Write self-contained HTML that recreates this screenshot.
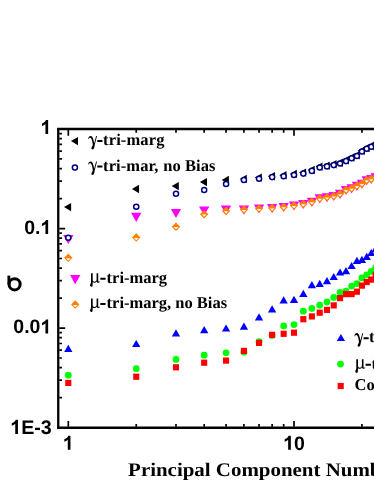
<!DOCTYPE html>
<html><head><meta charset="utf-8"><title>chart</title>
<style>
html,body{margin:0;padding:0;background:#fff;width:374px;height:484px;overflow:hidden}
svg{display:block;will-change:transform;transform:translateZ(0)}
text{text-rendering:geometricPrecision}
.s{font-family:"Liberation Sans",sans-serif;font-weight:bold;fill:#000}
.t{font-family:"Liberation Serif",serif;font-weight:bold;fill:#000}
</style></head><body>
<svg width="374" height="484" viewBox="0 0 374 484">
<rect width="374" height="484" fill="#fff"/>
<g>
<path d="M64 207.1L71.1 202.9V211.3Z" fill="#000"/>
<path d="M131.94 189L139.04 184.8V193.2Z" fill="#000"/>
<path d="M171.69 186.1L178.79 181.9V190.3Z" fill="#000"/>
<path d="M199.88 182.1L206.98 177.9V186.3Z" fill="#000"/>
<path d="M221.76 180L228.86 175.8V184.2Z" fill="#000"/>
<path d="M239.63 179L246.73 174.8V183.2Z" fill="#000"/>
<path d="M254.74 177.6L261.84 173.4V181.8Z" fill="#000"/>
<path d="M267.83 176.2L274.93 172V180.4Z" fill="#000"/>
<path d="M279.37 175.2L286.47 171V179.4Z" fill="#000"/>
<path d="M289.7 173.9L296.8 169.7V178.1Z" fill="#000"/>
<path d="M299.04 172.6L306.14 168.4V176.8Z" fill="#000"/>
<path d="M307.57 170L314.67 165.8V174.2Z" fill="#000"/>
<path d="M315.42 166.6L322.52 162.4V170.8Z" fill="#000"/>
<path d="M322.68 165.6L329.78 161.4V169.8Z" fill="#000"/>
<path d="M329.44 164.3L336.54 160.1V168.5Z" fill="#000"/>
<path d="M335.77 162.7L342.87 158.5V166.9Z" fill="#000"/>
<path d="M341.71 160.3L348.81 156.1V164.5Z" fill="#000"/>
<path d="M347.32 157.5L354.42 153.3V161.7Z" fill="#000"/>
<path d="M352.61 155.2L359.71 151V159.4Z" fill="#000"/>
<path d="M357.64 150.8L364.74 146.6V155Z" fill="#000"/>
<path d="M362.42 148L369.52 143.8V152.2Z" fill="#000"/>
<path d="M366.98 146L374.08 141.8V150.2Z" fill="#000"/>
<path d="M371.34 143.8L378.44 139.6V148Z" fill="#000"/>
<path d="M375.51 142L382.61 137.8V146.2Z" fill="#000"/>
</g>
<g>
<path d="M63.15 234.9H73.45L68.3 244Z" fill="#f0f"/>
<path d="M131.09 212.8H141.39L136.24 221.9Z" fill="#f0f"/>
<path d="M170.84 208.9H181.14L175.99 218Z" fill="#f0f"/>
<path d="M199.03 206.5H209.33L204.18 215.6Z" fill="#f0f"/>
<path d="M220.91 205.5H231.21L226.06 214.6Z" fill="#f0f"/>
<path d="M238.78 205.6H249.08L243.93 214.7Z" fill="#f0f"/>
<path d="M253.89 204.5H264.19L259.04 213.6Z" fill="#f0f"/>
<path d="M266.98 204.1H277.28L272.13 213.2Z" fill="#f0f"/>
<path d="M278.52 202.9H288.82L283.67 212Z" fill="#f0f"/>
<path d="M288.85 201.5H299.15L294 210.6Z" fill="#f0f"/>
<path d="M298.19 199.9H308.49L303.34 209Z" fill="#f0f"/>
<path d="M306.72 197.8H317.02L311.87 206.9Z" fill="#f0f"/>
<path d="M314.57 194.3H324.87L319.72 203.4Z" fill="#f0f"/>
<path d="M321.83 193.2H332.13L326.98 202.3Z" fill="#f0f"/>
<path d="M328.59 192H338.89L333.74 201.1Z" fill="#f0f"/>
<path d="M334.92 189.8H345.22L340.07 198.9Z" fill="#f0f"/>
<path d="M340.86 185.9H351.16L346.01 195Z" fill="#f0f"/>
<path d="M346.47 184.3H356.77L351.62 193.4Z" fill="#f0f"/>
<path d="M351.76 181.8H362.06L356.91 190.9Z" fill="#f0f"/>
<path d="M356.79 179.7H367.09L361.94 188.8Z" fill="#f0f"/>
<path d="M361.57 176.2H371.87L366.72 185.3Z" fill="#f0f"/>
<path d="M366.13 174.9H376.43L371.28 184Z" fill="#f0f"/>
<path d="M370.49 173.3H380.79L375.64 182.4Z" fill="#f0f"/>
<path d="M374.66 172.1H384.96L379.81 181.2Z" fill="#f0f"/>
</g>
<g>
<circle cx="68.3" cy="237.8" r="2.55" fill="#fff" stroke="#000080" stroke-width="1.5"/>
<circle cx="136.24" cy="206.7" r="2.55" fill="#fff" stroke="#000080" stroke-width="1.5"/>
<circle cx="175.99" cy="193.7" r="2.55" fill="#fff" stroke="#000080" stroke-width="1.5"/>
<circle cx="204.18" cy="190" r="2.55" fill="#fff" stroke="#000080" stroke-width="1.5"/>
<circle cx="226.06" cy="184" r="2.55" fill="#fff" stroke="#000080" stroke-width="1.5"/>
<circle cx="243.93" cy="180" r="2.55" fill="#fff" stroke="#000080" stroke-width="1.5"/>
<circle cx="259.04" cy="178.8" r="2.55" fill="#fff" stroke="#000080" stroke-width="1.5"/>
<circle cx="272.13" cy="177.1" r="2.55" fill="#fff" stroke="#000080" stroke-width="1.5"/>
<circle cx="283.67" cy="176.3" r="2.55" fill="#fff" stroke="#000080" stroke-width="1.5"/>
<circle cx="294" cy="175" r="2.55" fill="#fff" stroke="#000080" stroke-width="1.5"/>
<circle cx="303.34" cy="173.6" r="2.55" fill="#fff" stroke="#000080" stroke-width="1.5"/>
<circle cx="311.87" cy="170.9" r="2.55" fill="#fff" stroke="#000080" stroke-width="1.5"/>
<circle cx="319.72" cy="167.5" r="2.55" fill="#fff" stroke="#000080" stroke-width="1.5"/>
<circle cx="326.98" cy="166.4" r="2.55" fill="#fff" stroke="#000080" stroke-width="1.5"/>
<circle cx="333.74" cy="165.1" r="2.55" fill="#fff" stroke="#000080" stroke-width="1.5"/>
<circle cx="340.07" cy="163.5" r="2.55" fill="#fff" stroke="#000080" stroke-width="1.5"/>
<circle cx="346.01" cy="161.1" r="2.55" fill="#fff" stroke="#000080" stroke-width="1.5"/>
<circle cx="351.62" cy="158.3" r="2.55" fill="#fff" stroke="#000080" stroke-width="1.5"/>
<circle cx="356.91" cy="156" r="2.55" fill="#fff" stroke="#000080" stroke-width="1.5"/>
<circle cx="361.94" cy="151.5" r="2.55" fill="#fff" stroke="#000080" stroke-width="1.5"/>
<circle cx="366.72" cy="148.8" r="2.55" fill="#fff" stroke="#000080" stroke-width="1.5"/>
<circle cx="371.28" cy="146.8" r="2.55" fill="#fff" stroke="#000080" stroke-width="1.5"/>
<circle cx="375.64" cy="144.6" r="2.55" fill="#fff" stroke="#000080" stroke-width="1.5"/>
<circle cx="379.81" cy="143" r="2.55" fill="#fff" stroke="#000080" stroke-width="1.5"/>
</g>
<g>
<path d="M64.1 257.8L68.3 253.55L72.5 257.8L68.3 262.05Z" fill="#ff8000"/><path d="M66.05 258.2H70.55L68.3 260.45Z" fill="#fff"/>
<path d="M132.04 237.5L136.24 233.25L140.44 237.5L136.24 241.75Z" fill="#ff8000"/><path d="M133.99 237.9H138.49L136.24 240.15Z" fill="#fff"/>
<path d="M171.79 226.7L175.99 222.45L180.19 226.7L175.99 230.95Z" fill="#ff8000"/><path d="M173.74 227.1H178.24L175.99 229.35Z" fill="#fff"/>
<path d="M199.98 214.2L204.18 209.95L208.38 214.2L204.18 218.45Z" fill="#ff8000"/><path d="M201.93 214.6H206.43L204.18 216.85Z" fill="#fff"/>
<path d="M221.86 210.9L226.06 206.65L230.26 210.9L226.06 215.15Z" fill="#ff8000"/><path d="M223.81 211.3H228.31L226.06 213.55Z" fill="#fff"/>
<path d="M239.73 209.6L243.93 205.35L248.13 209.6L243.93 213.85Z" fill="#ff8000"/><path d="M241.68 210H246.18L243.93 212.25Z" fill="#fff"/>
<path d="M254.84 208.5L259.04 204.25L263.24 208.5L259.04 212.75Z" fill="#ff8000"/><path d="M256.79 208.9H261.29L259.04 211.15Z" fill="#fff"/>
<path d="M267.93 208.1L272.13 203.85L276.33 208.1L272.13 212.35Z" fill="#ff8000"/><path d="M269.88 208.5H274.38L272.13 210.75Z" fill="#fff"/>
<path d="M279.47 206.9L283.67 202.65L287.87 206.9L283.67 211.15Z" fill="#ff8000"/><path d="M281.42 207.3H285.92L283.67 209.55Z" fill="#fff"/>
<path d="M289.8 205.5L294 201.25L298.2 205.5L294 209.75Z" fill="#ff8000"/><path d="M291.75 205.9H296.25L294 208.15Z" fill="#fff"/>
<path d="M299.14 203.9L303.34 199.65L307.54 203.9L303.34 208.15Z" fill="#ff8000"/><path d="M301.09 204.3H305.59L303.34 206.55Z" fill="#fff"/>
<path d="M307.67 201.8L311.87 197.55L316.07 201.8L311.87 206.05Z" fill="#ff8000"/><path d="M309.62 202.2H314.12L311.87 204.45Z" fill="#fff"/>
<path d="M315.52 198.3L319.72 194.05L323.92 198.3L319.72 202.55Z" fill="#ff8000"/><path d="M317.47 198.7H321.97L319.72 200.95Z" fill="#fff"/>
<path d="M322.78 197.2L326.98 192.95L331.18 197.2L326.98 201.45Z" fill="#ff8000"/><path d="M324.73 197.6H329.23L326.98 199.85Z" fill="#fff"/>
<path d="M329.54 196L333.74 191.75L337.94 196L333.74 200.25Z" fill="#ff8000"/><path d="M331.49 196.4H335.99L333.74 198.65Z" fill="#fff"/>
<path d="M335.87 193.8L340.07 189.55L344.27 193.8L340.07 198.05Z" fill="#ff8000"/><path d="M337.82 194.2H342.32L340.07 196.45Z" fill="#fff"/>
<path d="M341.81 189.9L346.01 185.65L350.21 189.9L346.01 194.15Z" fill="#ff8000"/><path d="M343.76 190.3H348.26L346.01 192.55Z" fill="#fff"/>
<path d="M347.42 188.3L351.62 184.05L355.82 188.3L351.62 192.55Z" fill="#ff8000"/><path d="M349.37 188.7H353.87L351.62 190.95Z" fill="#fff"/>
<path d="M352.71 185.8L356.91 181.55L361.11 185.8L356.91 190.05Z" fill="#ff8000"/><path d="M354.66 186.2H359.16L356.91 188.45Z" fill="#fff"/>
<path d="M357.74 183.7L361.94 179.45L366.14 183.7L361.94 187.95Z" fill="#ff8000"/><path d="M359.69 184.1H364.19L361.94 186.35Z" fill="#fff"/>
<path d="M362.52 180.2L366.72 175.95L370.92 180.2L366.72 184.45Z" fill="#ff8000"/><path d="M364.47 180.6H368.97L366.72 182.85Z" fill="#fff"/>
<path d="M367.08 178.9L371.28 174.65L375.48 178.9L371.28 183.15Z" fill="#ff8000"/><path d="M369.03 179.3H373.53L371.28 181.55Z" fill="#fff"/>
<path d="M371.44 177.3L375.64 173.05L379.84 177.3L375.64 181.55Z" fill="#ff8000"/><path d="M373.39 177.7H377.89L375.64 179.95Z" fill="#fff"/>
<path d="M375.61 176L379.81 171.75L384.01 176L379.81 180.25Z" fill="#ff8000"/><path d="M377.56 176.4H382.06L379.81 178.65Z" fill="#fff"/>
</g>
<g>
<path d="M64.15 351.9H72.45L68.3 344.7Z" fill="#00f"/>
<path d="M132.09 347.1H140.39L136.24 339.9Z" fill="#00f"/>
<path d="M171.84 336.4H180.14L175.99 329.2Z" fill="#00f"/>
<path d="M200.03 333.2H208.33L204.18 326Z" fill="#00f"/>
<path d="M221.91 331.6H230.21L226.06 324.4Z" fill="#00f"/>
<path d="M239.78 329.8H248.08L243.93 322.6Z" fill="#00f"/>
<path d="M254.89 320.4H263.19L259.04 313.2Z" fill="#00f"/>
<path d="M267.98 312.4H276.28L272.13 305.2Z" fill="#00f"/>
<path d="M279.52 303.5H287.82L283.67 296.3Z" fill="#00f"/>
<path d="M289.85 303H298.15L294 295.8Z" fill="#00f"/>
<path d="M299.19 297H307.49L303.34 289.8Z" fill="#00f"/>
<path d="M307.72 288.3H316.02L311.87 281.1Z" fill="#00f"/>
<path d="M315.57 286.9H323.87L319.72 279.7Z" fill="#00f"/>
<path d="M322.83 284.2H331.13L326.98 277Z" fill="#00f"/>
<path d="M329.59 280.1H337.89L333.74 272.9Z" fill="#00f"/>
<path d="M335.92 275.6H344.22L340.07 268.4Z" fill="#00f"/>
<path d="M341.86 274.2H350.16L346.01 267Z" fill="#00f"/>
<path d="M347.47 269.1H355.77L351.62 261.9Z" fill="#00f"/>
<path d="M352.76 263.9H361.06L356.91 256.7Z" fill="#00f"/>
<path d="M357.79 262.9H366.09L361.94 255.7Z" fill="#00f"/>
<path d="M362.57 259.9H370.87L366.72 252.7Z" fill="#00f"/>
<path d="M367.13 256.1H375.43L371.28 248.9Z" fill="#00f"/>
<path d="M371.49 252H379.79L375.64 244.8Z" fill="#00f"/>
<path d="M375.66 249.6H383.96L379.81 242.4Z" fill="#00f"/>
</g>
<g>
<circle cx="68.3" cy="375.2" r="3.4" fill="#0f0"/>
<circle cx="136.24" cy="368.7" r="3.4" fill="#0f0"/>
<circle cx="175.99" cy="359.5" r="3.4" fill="#0f0"/>
<circle cx="204.18" cy="355.2" r="3.4" fill="#0f0"/>
<circle cx="226.06" cy="352.8" r="3.4" fill="#0f0"/>
<circle cx="243.93" cy="352.2" r="3.4" fill="#0f0"/>
<circle cx="259.04" cy="341.6" r="3.4" fill="#0f0"/>
<circle cx="272.13" cy="335.4" r="3.4" fill="#0f0"/>
<circle cx="283.67" cy="326" r="3.4" fill="#0f0"/>
<circle cx="294" cy="324.6" r="3.4" fill="#0f0"/>
<circle cx="303.34" cy="311.2" r="3.4" fill="#0f0"/>
<circle cx="311.87" cy="308.4" r="3.4" fill="#0f0"/>
<circle cx="319.72" cy="305.2" r="3.4" fill="#0f0"/>
<circle cx="326.98" cy="302" r="3.4" fill="#0f0"/>
<circle cx="333.74" cy="297.4" r="3.4" fill="#0f0"/>
<circle cx="340.07" cy="292.3" r="3.4" fill="#0f0"/>
<circle cx="346.01" cy="291.2" r="3.4" fill="#0f0"/>
<circle cx="351.62" cy="286.1" r="3.4" fill="#0f0"/>
<circle cx="356.91" cy="283.6" r="3.4" fill="#0f0"/>
<circle cx="361.94" cy="277.9" r="3.4" fill="#0f0"/>
<circle cx="366.72" cy="274.8" r="3.4" fill="#0f0"/>
<circle cx="371.28" cy="271.5" r="3.4" fill="#0f0"/>
<circle cx="375.64" cy="267.4" r="3.4" fill="#0f0"/>
<circle cx="379.81" cy="265" r="3.4" fill="#0f0"/>
</g>
<g>
<rect x="65.25" y="379.8" width="6.1" height="6.2" fill="#f00"/>
<rect x="133.19" y="373.6" width="6.1" height="6.2" fill="#f00"/>
<rect x="172.94" y="364.2" width="6.1" height="6.2" fill="#f00"/>
<rect x="201.13" y="359.6" width="6.1" height="6.2" fill="#f00"/>
<rect x="223.01" y="357.5" width="6.1" height="6.2" fill="#f00"/>
<rect x="240.88" y="347.8" width="6.1" height="6.2" fill="#f00"/>
<rect x="255.99" y="339.8" width="6.1" height="6.2" fill="#f00"/>
<rect x="269.08" y="331.7" width="6.1" height="6.2" fill="#f00"/>
<rect x="280.62" y="330.7" width="6.1" height="6.2" fill="#f00"/>
<rect x="290.95" y="329.6" width="6.1" height="6.2" fill="#f00"/>
<rect x="300.29" y="316.1" width="6.1" height="6.2" fill="#f00"/>
<rect x="308.82" y="313.3" width="6.1" height="6.2" fill="#f00"/>
<rect x="316.67" y="309.6" width="6.1" height="6.2" fill="#f00"/>
<rect x="323.93" y="306.8" width="6.1" height="6.2" fill="#f00"/>
<rect x="330.69" y="302.3" width="6.1" height="6.2" fill="#f00"/>
<rect x="337.02" y="295" width="6.1" height="6.2" fill="#f00"/>
<rect x="342.96" y="291" width="6.1" height="6.2" fill="#f00"/>
<rect x="348.57" y="291" width="6.1" height="6.2" fill="#f00"/>
<rect x="353.86" y="288.6" width="6.1" height="6.2" fill="#f00"/>
<rect x="358.89" y="282.5" width="6.1" height="6.2" fill="#f00"/>
<rect x="363.67" y="278.9" width="6.1" height="6.2" fill="#f00"/>
<rect x="368.23" y="276.5" width="6.1" height="6.2" fill="#f00"/>
<rect x="372.59" y="271.5" width="6.1" height="6.2" fill="#f00"/>
<rect x="376.76" y="268.9" width="6.1" height="6.2" fill="#f00"/>
</g>
<path d="M58.25 428.75V128.0" stroke="#000" stroke-width="2.3" fill="none"/>
<path d="M57.1 129.0H380" stroke="#000" stroke-width="2.3" fill="none"/>
<path d="M57.1 427.75H380" stroke="#000" stroke-width="2.3" fill="none"/>
<path d="M59.25 228.53h5.9M59.25 198.57h2.7M59.25 181.04h2.7M59.25 168.61h2.7M59.25 158.96h2.7M59.25 151.08h2.7M59.25 144.42h2.7M59.25 138.65h2.7M59.25 133.55h2.7M59.25 328.06h5.9M59.25 298.1h2.7M59.25 280.57h2.7M59.25 268.14h2.7M59.25 258.49h2.7M59.25 250.61h2.7M59.25 243.95h2.7M59.25 238.18h2.7M59.25 233.08h2.7M59.25 397.63h2.7M59.25 380.1h2.7M59.25 367.67h2.7M59.25 358.02h2.7M59.25 350.14h2.7M59.25 343.48h2.7M59.25 337.71h2.7M59.25 332.61h2.7M68.3 130.0v5.8M68.3 426.75v-5.8M136.24 130.0v2.7M136.24 426.75v-2.7M175.99 130.0v2.7M175.99 426.75v-2.7M204.18 130.0v2.7M204.18 426.75v-2.7M226.06 130.0v2.7M226.06 426.75v-2.7M243.93 130.0v2.7M243.93 426.75v-2.7M259.04 130.0v2.7M259.04 426.75v-2.7M272.13 130.0v2.7M272.13 426.75v-2.7M283.67 130.0v2.7M283.67 426.75v-2.7M294 130.0v5.8M294 426.75v-5.8M361.94 130.0v2.7M361.94 426.75v-2.7" stroke="#000" stroke-width="1.7" fill="none"/>
<path d="M70.9 141.1L78 136.9V145.3Z" fill="#000"/>
<circle cx="74.9" cy="167.6" r="2.55" fill="#fff" stroke="#000080" stroke-width="1.5"/>
<path d="M70.05 275.1H80.35L75.2 284.2Z" fill="#f0f"/>
<path d="M71 304.6L75.2 300.35L79.4 304.6L75.2 308.85Z" fill="#ff8000"/><path d="M72.95 305H77.45L75.2 307.25Z" fill="#fff"/>
<path d="M336.75 341.1H345.05L340.9 333.9Z" fill="#00f"/>
<circle cx="340.5" cy="364.1" r="3.4" fill="#0f0"/>
<rect x="337.65" y="382.9" width="6.1" height="6.2" fill="#f00"/>
<path transform="translate(40.46 134) scale(0.00952)" d="M806 0H525V-1059Q371 -915 162 -846V-1101Q272 -1137 401 -1237.5Q530 -1338 578 -1472H806Z" fill="#000"/>
<text class="s" x="40.46" y="234" font-size="19.5" text-anchor="end">0.</text>
<path transform="translate(40.46 234) scale(0.00952)" d="M806 0H525V-1059Q371 -915 162 -846V-1101Q272 -1137 401 -1237.5Q530 -1338 578 -1472H806Z" fill="#000"/>
<text class="s" x="40.46" y="333.4" font-size="19.5" text-anchor="end">0.0</text>
<path transform="translate(40.46 333.4) scale(0.00952)" d="M806 0H525V-1059Q371 -915 162 -846V-1101Q272 -1137 401 -1237.5Q530 -1338 578 -1472H806Z" fill="#000"/>
<text class="s" x="51.8" y="433.9" font-size="19.7" text-anchor="end">E-3</text>
<path transform="translate(10.19 433.9) scale(0.00962)" d="M806 0H525V-1059Q371 -915 162 -846V-1101Q272 -1137 401 -1237.5Q530 -1338 578 -1472H806Z" fill="#000"/>
<path transform="translate(62.78 449.8) scale(0.00952)" d="M806 0H525V-1059Q371 -915 162 -846V-1101Q272 -1137 401 -1237.5Q530 -1338 578 -1472H806Z" fill="#000"/>
<path transform="translate(283.16 449.8) scale(0.00952)" d="M806 0H525V-1059Q371 -915 162 -846V-1101Q272 -1137 401 -1237.5Q530 -1338 578 -1472H806Z" fill="#000"/>
<text class="s" x="294" y="449.8" font-size="19.5" text-anchor="start">0</text>
<g class="t" font-size="16.5">
<path transform="translate(88.2 145.1)" d="M0 -6.0C0.2 -8.0 1.1 -9.2 2.5 -9.2C4.0 -9.2 4.7 -7.6 5.3 -5.0L6.0 -1.9L7.9 -9.0H8.8L6.5 0.0C6.3 1.6 6.0 3.0 5.4 3.9C4.9 4.6 3.5 4.6 3.2 3.6C3.0 2.6 4.1 1.6 4.6 -0.3C4.3 -3.4 3.5 -7.3 2.0 -7.3C1.2 -7.3 0.8 -6.8 0.6 -6.0Z"/>
<text x="103.1" y="145.1" id="l1" letter-spacing="0.12">tri-marg</text>
<path transform="translate(88.2 170.6)" d="M0 -6.0C0.2 -8.0 1.1 -9.2 2.5 -9.2C4.0 -9.2 4.7 -7.6 5.3 -5.0L6.0 -1.9L7.9 -9.0H8.8L6.5 0.0C6.3 1.6 6.0 3.0 5.4 3.9C4.9 4.6 3.5 4.6 3.2 3.6C3.0 2.6 4.1 1.6 4.6 -0.3C4.3 -3.4 3.5 -7.3 2.0 -7.3C1.2 -7.3 0.8 -6.8 0.6 -6.0Z"/>
<text x="103.1" y="170.6" id="l2" letter-spacing="0.08">tri-mar, <tspan dx="0.4">no Bias</tspan></text>
<path transform="translate(90.0 282.6)" d="M1.0 -9.4H2.7V-2.6C2.7 -1.5 3.5 -0.95 4.5 -0.95C5.6 -0.95 6.6 -1.7 6.6 -2.9V-9.4H8.2V-2.0C8.2 -1.25 8.55 -0.95 8.95 -0.95C9.3 -0.95 9.55 -1.15 9.75 -1.45L9.95 -0.95C9.65 -0.25 9.05 0.15 8.3 0.15C7.4 0.15 6.8 -0.4 6.65 -1.2C6.2 -0.3 5.3 0.15 4.3 0.15C3.6 0.15 3.05 -0.1 2.75 -0.5C2.65 0.8 2.6 1.6 2.6 2.6C2.6 3.6 2.1 4.1 1.4 4.1C0.6 4.1 0.0 3.5 0.0 2.7C0.0 1.7 1.0 1.0 1.0 -0.6Z"/>
<text x="106.6" y="282.5" id="l3">tri-marg</text>
<path transform="translate(90.0 307.9)" d="M1.0 -9.4H2.7V-2.6C2.7 -1.5 3.5 -0.95 4.5 -0.95C5.6 -0.95 6.6 -1.7 6.6 -2.9V-9.4H8.2V-2.0C8.2 -1.25 8.55 -0.95 8.95 -0.95C9.3 -0.95 9.55 -1.15 9.75 -1.45L9.95 -0.95C9.65 -0.25 9.05 0.15 8.3 0.15C7.4 0.15 6.8 -0.4 6.65 -1.2C6.2 -0.3 5.3 0.15 4.3 0.15C3.6 0.15 3.05 -0.1 2.75 -0.5C2.65 0.8 2.6 1.6 2.6 2.6C2.6 3.6 2.1 4.1 1.4 4.1C0.6 4.1 0.0 3.5 0.0 2.7C0.0 1.7 1.0 1.0 1.0 -0.6Z"/>
<text x="106.6" y="307.8" id="l4">tri-marg, <tspan dx="0">no Bias</tspan></text>
<path transform="translate(354.4 342.3)" d="M0 -6.0C0.2 -8.0 1.1 -9.2 2.5 -9.2C4.0 -9.2 4.7 -7.6 5.3 -5.0L6.0 -1.9L7.9 -9.0H8.8L6.5 0.0C6.3 1.6 6.0 3.0 5.4 3.9C4.9 4.6 3.5 4.6 3.2 3.6C3.0 2.6 4.1 1.6 4.6 -0.3C4.3 -3.4 3.5 -7.3 2.0 -7.3C1.2 -7.3 0.8 -6.8 0.6 -6.0Z"/>
<text x="368.9" y="342.3" id="l5">tri-marg</text>
<path transform="translate(355.3 368.7)" d="M1.0 -9.4H2.7V-2.6C2.7 -1.5 3.5 -0.95 4.5 -0.95C5.6 -0.95 6.6 -1.7 6.6 -2.9V-9.4H8.2V-2.0C8.2 -1.25 8.55 -0.95 8.95 -0.95C9.3 -0.95 9.55 -1.15 9.75 -1.45L9.95 -0.95C9.65 -0.25 9.05 0.15 8.3 0.15C7.4 0.15 6.8 -0.4 6.65 -1.2C6.2 -0.3 5.3 0.15 4.3 0.15C3.6 0.15 3.05 -0.1 2.75 -0.5C2.65 0.8 2.6 1.6 2.6 2.6C2.6 3.6 2.1 4.1 1.4 4.1C0.6 4.1 0.0 3.5 0.0 2.7C0.0 1.7 1.0 1.0 1.0 -0.6Z"/>
<text x="371.6" y="368.6" id="l6">tri-marg</text>
<text x="354.5" y="389.8" id="l7">Conventional</text>
</g>
<path d="M97.3 141.0h5.1M97.3 166.5h5.1M100.3 278.7h5.3M100.3 304.0h5.3M363.6 338.2h5.1M365.6 364.8h5.3" stroke="#000" stroke-width="2" fill="none"/>
<text class="t" font-size="19.3" transform="translate(128.1 475.5) scale(1.085 1)" x="0" y="0" id="xl">Principal Component Number</text>
<g fill="none" stroke="#000">
<ellipse cx="14.6" cy="284.3" rx="5.55" ry="5.65" stroke-width="3"/>
<path d="M8.9 275.6V284.5" stroke-width="2.9"/>
</g>
</svg>
</body></html>
